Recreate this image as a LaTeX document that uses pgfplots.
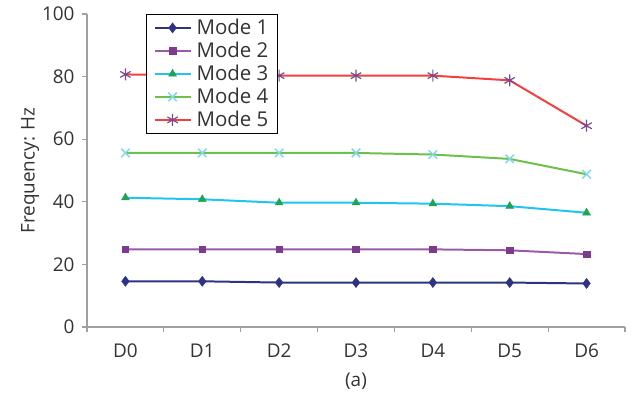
\documentclass[border=0pt]{standalone}
\usepackage{pgfplots}
\pgfplotsset{compat=1.18}
\usepackage{fontspec}
\setmainfont{Open Sans}
\definecolor{axgray}{HTML}{A0A0A0}
\definecolor{txt}{HTML}{333333}
\definecolor{navy}{HTML}{2E3282}
\definecolor{purp}{HTML}{7E3A8C}
\definecolor{purpl}{HTML}{9A5AA8}
\definecolor{cyanl}{HTML}{20C4F0}
\definecolor{greent}{HTML}{1EA455}
\definecolor{greenl}{HTML}{6DC04C}
\definecolor{cyanx}{HTML}{80D8EA}
\definecolor{redl}{HTML}{F2403C}
\definecolor{purpx}{HTML}{7A4A8E}
\begin{document}
\begin{tikzpicture}
\begin{axis}[
  scale only axis, width=538bp, height=313bp,
  xmin=-0.5, xmax=6.5, ymin=0, ymax=100,
  axis x line*=bottom, axis y line*=left,
  axis line style={axgray, line width=1.2pt},
  every tick/.style={axgray, line width=1.2pt},
  tick align=outside, major tick length=5bp,
  xtick={-0.5,0.5,...,6.5}, xticklabels={},
  extra x ticks={0,1,2,3,4,5,6},
  extra x tick labels={D0,D1,D2,D3,D4,D5,D6},
  extra x tick style={major tick length=0pt},
  ytick={0,20,40,60,80,100},
  tick label style={font=\fontsize{19}{22}\selectfont, text=txt},
  /pgf/number format/assume math mode=true,
  xticklabel style={yshift=-13bp},
  yticklabel style={xshift=-4bp},
  ylabel={Frequency: Hz},
  ylabel style={font=\fontsize{19}{22}\selectfont, text=txt, yshift=-4bp},
  xlabel={(a)},
  xlabel style={font=\fontsize{19}{22}\selectfont, text=txt, yshift=-4bp},
  legend style={at={(0.11,1)}, anchor=north west, draw=black, line width=0.8pt,
    font=\fontsize{20.5}{22}\selectfont, text=txt, row sep=2bp, column sep=3bp,
    inner xsep=7bp, inner ysep=3bp},
  legend cell align=left,
  legend image code/.code={\draw[mark repeat=2,mark phase=2] plot coordinates {(0bp,0bp)(18bp,0bp)(36bp,0bp)};},
  legend image post style={line width=2pt},
  every axis plot/.append style={line width=2pt},
  clip=false,
]
\addplot[navy, mark=diamond*, mark size=5bp, mark options={fill=navy, line width=0.5pt}] coordinates {(0,14.6) (1,14.6) (2,14.2) (3,14.2) (4,14.2) (5,14.2) (6,13.9)};
\addlegendentry{Mode 1}
\addplot[purpl, mark=square*, mark size=3.3bp, mark options={draw=purp, fill=purp, line width=0.5pt}] coordinates {(0,24.8) (1,24.8) (2,24.8) (3,24.8) (4,24.8) (5,24.5) (6,23.3)};
\addlegendentry{Mode 2}
\addplot[cyanl, mark=triangle*, mark size=4.5bp, mark options={draw=greent, fill=greent, line width=0.5pt}] coordinates {(0,41.3) (1,40.8) (2,39.7) (3,39.7) (4,39.4) (5,38.6) (6,36.5)};
\addlegendentry{Mode 3}
\addplot[greenl, mark=x, mark size=6bp, mark options={draw=cyanx, line width=1.5pt}] coordinates {(0,55.6) (1,55.6) (2,55.6) (3,55.6) (4,55.1) (5,53.7) (6,48.8)};
\addlegendentry{Mode 4}
\addplot[redl, mark=asterisk, mark size=6bp, mark options={draw=purpx, line width=1.2pt}] coordinates {(0,80.7) (1,80.3) (2,80.3) (3,80.3) (4,80.3) (5,78.8) (6,64.3)};
\addlegendentry{Mode 5}
\end{axis}
\path (-87bp,-68bp) rectangle (546bp,327bp);
\end{tikzpicture}
\end{document}
